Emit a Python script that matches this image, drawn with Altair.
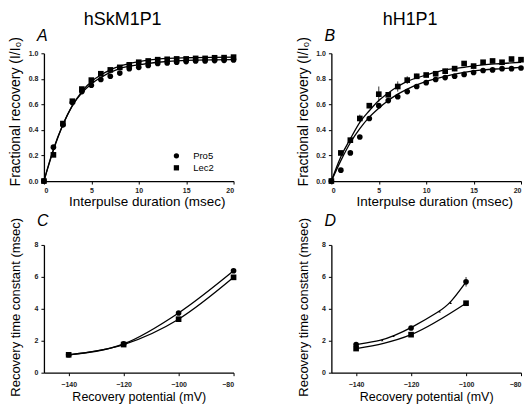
import altair as alt
import pandas as pd

FONT = "Liberation Sans"

# ---------- Panel A (hSkM1P1 recovery) ----------
t = list(range(21))
a_pro5 = [0, 0.265, 0.44, 0.615, 0.70, 0.75, 0.795, 0.82, 0.845, 0.88, 0.89,
          0.905, 0.92, 0.925, 0.93, 0.935, 0.94, 0.94, 0.943, 0.945, 0.948]
a_lec2 = [0, 0.205, 0.45, 0.625, 0.72, 0.79, 0.84, 0.87, 0.89, 0.91, 0.93,
          0.94, 0.95, 0.953, 0.956, 0.956, 0.96, 0.96, 0.965, 0.966, 0.97]
a_fit_t = [0, 1, 2, 3, 4, 5, 6, 7, 8, 10, 12, 15, 20]
a_fit_pro5 = [0, 0.25, 0.44, 0.59, 0.69, 0.76, 0.81, 0.85, 0.88, 0.91, 0.93, 0.945, 0.95]
a_fit_lec2 = [0, 0.24, 0.44, 0.59, 0.70, 0.78, 0.83, 0.87, 0.90, 0.935, 0.955, 0.965, 0.97]

# ---------- Panel B (hH1P1 recovery) ----------
b_pro5 = [0, 0.085, 0.22, 0.345, 0.49, 0.59, 0.63, 0.66, 0.70, 0.74, 0.77,
          0.795, 0.81, 0.82, 0.835, 0.85, 0.865, 0.87, 0.88, 0.88, 0.885]
b_lec2 = [0, 0.22, 0.32, 0.49, 0.59, 0.68, 0.675, 0.74, 0.79, 0.82, 0.83,
          0.84, 0.86, 0.88, 0.92, 0.90, 0.93, 0.94, 0.93, 0.955, 0.95]
b_fit_t = [0, 1, 2, 3, 4, 5, 6, 7, 8, 10, 12, 14, 16, 18, 20]
b_fit_pro5 = [0, 0.16, 0.30, 0.41, 0.50, 0.57, 0.63, 0.68, 0.72, 0.78, 0.82, 0.85, 0.87, 0.88, 0.89]
b_fit_lec2 = [0, 0.19, 0.33, 0.46, 0.55, 0.63, 0.69, 0.74, 0.78, 0.83, 0.87, 0.89, 0.91, 0.92, 0.93]
b_err_t = [3, 4, 5, 7, 8, 9, 12, 13]
b_err_lec2 = [0.03, 0.02, 0.06, 0.04, 0.03, 0.02, 0.02, 0.02]

# ---------- Panel C (hSkM1P1 time constants) ----------
c_v = [-140, -120, -100, -80]
c_pro5 = [1.12, 1.80, 3.74, 6.38]
c_lec2 = [1.12, 1.76, 3.35, 5.97]

# ---------- Panel D (hH1P1 time constants) ----------
d_v = [-140, -120, -100]
d_pro5 = [1.76, 2.80, 5.69]
d_lec2 = [1.51, 2.38, 4.35]
d_err_pro5 = [0.05, 0.08, 0.3]
d_mid_v = [-130.5, -126.4, -109.6, -105.6]
d_mid_tau = [2.03, 2.30, 3.83, 4.37]

SERIES = ["Pro5", "Lec2"]
shape_scale = alt.Scale(domain=SERIES, range=["circle", "square"])

W, H = 190, 128


def pts_df(x, ys):
    rows = []
    for name, vals in ys.items():
        for xi, yi in zip(x, vals):
            rows.append({"x": xi, "y": yi, "series": name})
    return pd.DataFrame(rows)


def panel(letter, letter_offset, pts, fits, xscale, yscale, xaxis, yaxis,
          legend=None, errs=None, extra=None, interp=None):
    interp = interp or {}
    xenc = alt.X("x:Q", scale=xscale, axis=xaxis)
    yenc = alt.Y("y:Q", scale=yscale, axis=yaxis)
    layers = []
    for name in SERIES:
        sub = fits[fits["series"] == name]
        layers.append(alt.Chart(sub).mark_line(
            color="black", strokeWidth=1.3,
            interpolate=interp.get(name, "monotone")).encode(x=xenc, y=yenc))
    points = alt.Chart(pts).mark_point(filled=True, color="black", size=32,
                                       opacity=1).encode(
        x=xenc, y=yenc,
        shape=alt.Shape("series:N", scale=shape_scale, legend=legend))
    if errs is not None:
        layers.append(alt.Chart(errs).mark_rule(color="black", strokeWidth=0.8).encode(
            x=xenc, y=alt.Y("lo:Q", scale=yscale, axis=yaxis), y2="hi:Q"))
    if extra is not None:
        layers.append(alt.Chart(extra).mark_point(filled=True, color="black",
                                                  size=6, shape="triangle-up",
                                                  opacity=1).encode(x=xenc, y=yenc))
    layers.append(points)
    return alt.layer(*layers).properties(
        width=W, height=H,
        title=alt.TitleParams(letter, anchor="start", frame="group", font=FONT,
                              fontSize=16, fontStyle="italic", fontWeight="normal",
                              dx=-7, offset=letter_offset, color="black"))


rec_x = alt.Scale(domain=[0, 20], nice=False)
rec_y = alt.Scale(domain=[0, 1], nice=False)
rec_xaxis = alt.Axis(title="Interpulse duration (msec)", values=[0, 5, 10, 15, 20],
                     labelPadding=2, titleFontSize=13.5, titleX=103, titleY=14,
                     titleAlign="center", titleBaseline="top")
rec_yaxis = alt.Axis(title="Fractional recovery (I/I\u2080)",
                     values=[0, 0.2, 0.4, 0.6, 0.8, 1.0], format=".1f",
                     titleFontSize=14, titleX=-21, titleY=58, titleAlign="center",
                     titleBaseline="bottom")
tau_x = alt.Scale(domain=[-149, -80], nice=False)
tau_y = alt.Scale(domain=[0, 8], nice=False)
tau_xaxis = alt.Axis(title="Recovery potential (mV)", values=[-140, -120, -100, -80],
                     labelPadding=5, titleFontSize=12.5, titleX=95, titleY=18,
                     titleAlign="center", titleBaseline="top")
tau_yaxis = alt.Axis(title="Recovery time constant (msec)", values=[0, 2, 4, 6, 8],
                     titleFontSize=13, titleX=-21, titleY=62, titleAlign="center",
                     titleBaseline="bottom")

legend = alt.Legend(title=None, orient="none", legendX=128, legendY=98,
                    labelFont=FONT, labelFontSize=9.5, labelColor="black",
                    symbolSize=28, symbolFillColor="black", symbolStrokeColor="black",
                    labelOffset=12, rowPadding=0, padding=0)

pA = panel("A", -8, pts_df(t, {"Pro5": a_pro5, "Lec2": a_lec2}),
           pts_df(a_fit_t, {"Pro5": a_fit_pro5, "Lec2": a_fit_lec2}),
           rec_x, rec_y, rec_xaxis, rec_yaxis, legend=legend)

b_err_df = pd.DataFrame({
    "x": b_err_t,
    "lo": [b_lec2[i] - e for i, e in zip(b_err_t, b_err_lec2)],
    "hi": [b_lec2[i] + e for i, e in zip(b_err_t, b_err_lec2)],
})
pB = panel("B", -8, pts_df(t, {"Pro5": b_pro5, "Lec2": b_lec2}),
           pts_df(b_fit_t, {"Pro5": b_fit_pro5, "Lec2": b_fit_lec2}),
           rec_x, rec_y, rec_xaxis, rec_yaxis, legend=None, errs=b_err_df)

c_df = pts_df(c_v, {"Pro5": c_pro5, "Lec2": c_lec2})
pC = panel("C", -12, c_df, c_df, tau_x, tau_y, tau_xaxis, tau_yaxis, legend=None)

d_df = pts_df(d_v, {"Pro5": d_pro5, "Lec2": d_lec2})
d_line = pd.concat([
    pd.DataFrame({"x": d_v[:2] + d_mid_v + d_v[2:],
                  "y": d_pro5[:2] + d_mid_tau + d_pro5[2:],
                  "series": "Pro5"}).sort_values("x"),
    pts_df(d_v, {"Lec2": d_lec2}),
])
d_err_df = pd.DataFrame({
    "x": d_v,
    "lo": [y - e for y, e in zip(d_pro5, d_err_pro5)],
    "hi": [y + e for y, e in zip(d_pro5, d_err_pro5)],
})
d_extra = pd.DataFrame({"x": d_mid_v, "y": d_mid_tau})
pD = panel("D", -12, d_df, d_line, tau_x, tau_y, tau_xaxis, tau_yaxis, legend=None,
           errs=d_err_df, extra=d_extra, interp={"Pro5": "basis"})

col_title = dict(anchor="middle", font=FONT, fontSize=18, fontWeight="normal",
                 color="black", offset=-1)

left = alt.vconcat(pA, pC, spacing=4,
                   title=alt.TitleParams("hSkM1P1", **col_title)).resolve_scale(
    shape="independent").resolve_legend(shape="independent")
right = alt.vconcat(pB, pD, spacing=4,
                    title=alt.TitleParams("hH1P1", **col_title)).resolve_scale(
    shape="independent").resolve_legend(shape="independent")

chart = alt.hconcat(left, right, spacing=59).resolve_scale(
    shape="independent").resolve_legend(shape="independent").properties(
    padding={"left": 0, "top": 3, "right": 0, "bottom": 0},
    background="white",
).configure_view(stroke=None).configure_axis(
    grid=False, domainColor="black", domainWidth=1.3, tickColor="black",
    tickSize=3, tickWidth=1, labelFont=FONT, labelFontSize=7, labelFontWeight="bold",
    labelColor="#222222", labelPadding=3, titleFont=FONT,
    titleFontWeight="normal", titleColor="black",
)

chart.save("out.html", embed_options={"renderer": "svg", "actions": False})
